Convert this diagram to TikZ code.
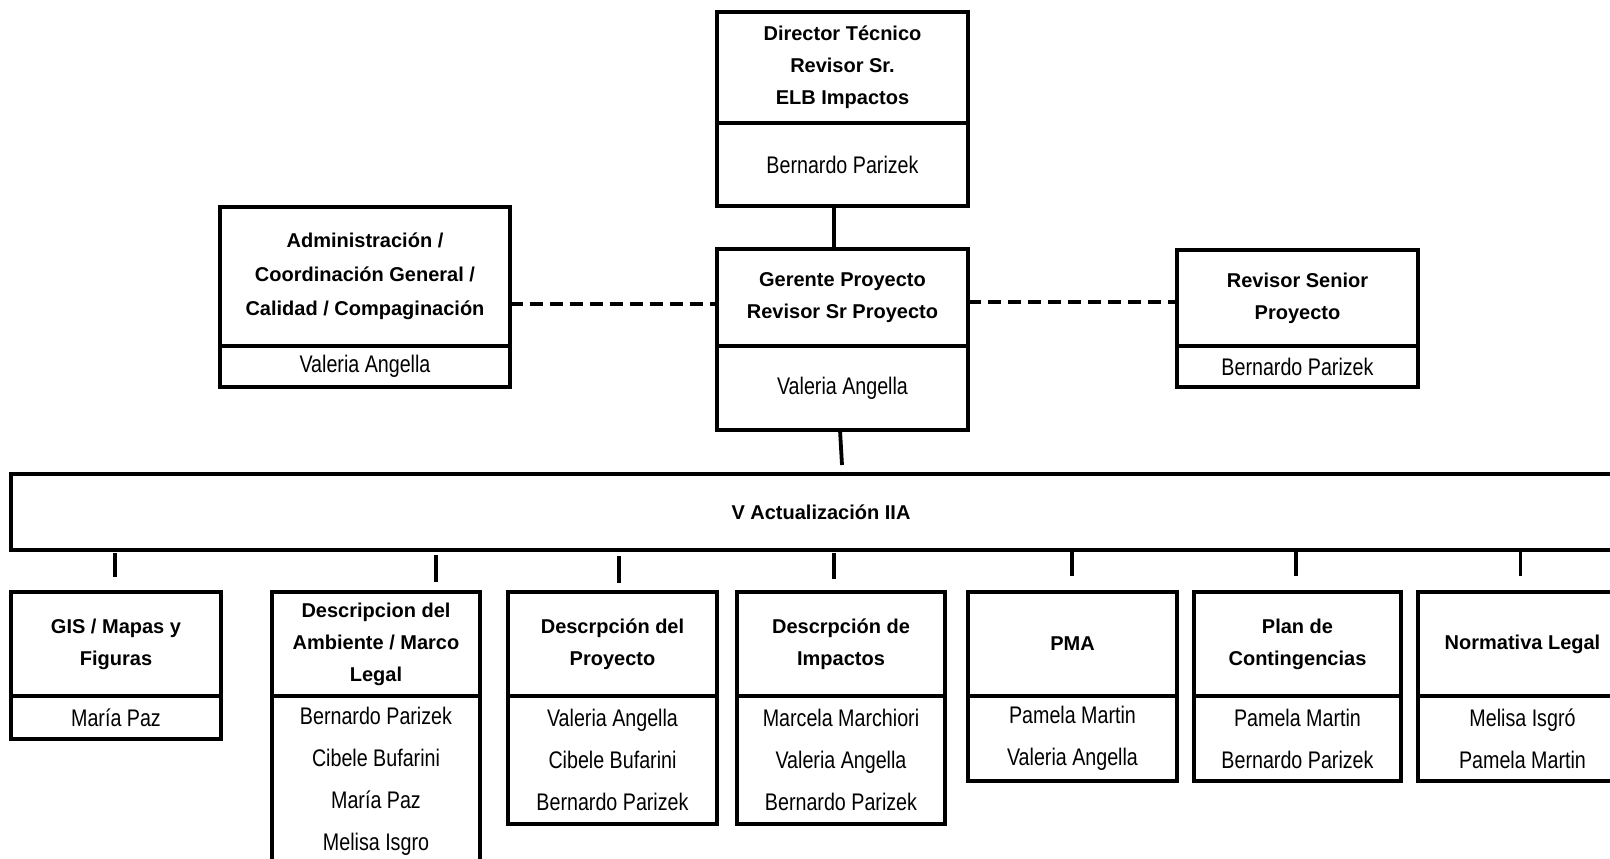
\documentclass[tikz,border=0pt]{standalone}
\usepackage{fontspec}
\setmainfont{Liberation Sans}
\newfontfamily\narrowfont[FakeStretch=0.82]{Liberation Sans}
\usetikzlibrary{calc}
\tikzset{
  box/.style={draw, line width=4pt, rectangle, inner sep=0pt, outer sep=0pt, align=center},
  ttl/.style={box, font=\fontsize{20}{32}\selectfont\bfseries},
  nm/.style={box, font={\narrowfont\fontsize{24}{42}\selectfont}},
  conn/.style={line width=3.8pt},
  dashline/.style={line width=3.3pt, dash pattern=on 13pt off 7pt}
}
\begin{document}
\begin{tikzpicture}[x=1pt,y=-1pt]
\path[use as bounding box] (0,0) rectangle (1610,859);
\clip (0,0) rectangle (1610,859);
% top
\node[ttl, minimum width=251pt, minimum height=111pt] (dirT) at (842.5,67.5) {Director Técnico\\Revisor Sr.\\ELB Impactos};
\node[nm, minimum width=251pt, minimum height=83pt] (dirN) at (842.5,164.5) {Bernardo Parizek};
\node[ttl, minimum width=251pt, minimum height=97pt] (gerT) at (842.5,297.5) {Gerente Proyecto\\Revisor Sr Proyecto};
\node[nm, minimum width=251pt, minimum height=84pt] (gerN) at (842.5,388) {Valeria Angella};
\node[ttl, minimum width=290pt, minimum height=139pt, font=\fontsize{20}{34}\selectfont\bfseries] (admT) at (365,276.5) {Administración /\\Coordinación General /\\Calidad / Compaginación};
\node[nm, minimum width=290pt, minimum height=41pt] (admN) at (365,366.5) {Valeria Angella};
\node[ttl, minimum width=241pt, minimum height=96pt] (revT) at (1297.5,298) {Revisor Senior\\Proyecto};
\node[nm, minimum width=241pt, minimum height=41pt] (revN) at (1297.5,366.5) {Bernardo Parizek};
% main bar
\node[ttl, minimum width=1620pt, minimum height=76pt] (big) at (821,512) {V Actualización IIA};
% bottom row
\node[ttl, minimum width=210pt, minimum height=104pt] (gisT) at (116,644) {GIS / Mapas y\\Figuras};
\node[nm, minimum width=210pt, minimum height=43pt] (gisN) at (116,717.5) {María Paz};
\node[ttl, minimum width=208pt, minimum height=104pt] (ambT) at (376,644) {Descripcion del\\Ambiente / Marco\\Legal};
\node[nm, minimum width=208pt, minimum height=170pt] (ambN) at (376,781) {Bernardo Parizek\\Cibele Bufarini\\María Paz\\Melisa Isgro};
\node[ttl, minimum width=209pt, minimum height=104pt] (proT) at (612.5,644) {Descrpción del\\Proyecto};
\node[nm, minimum width=209pt, minimum height=128pt] (proN) at (612.5,760) {Valeria Angella\\Cibele Bufarini\\Bernardo Parizek};
\node[ttl, minimum width=208pt, minimum height=104pt] (impT) at (841,644) {Descrpción de\\Impactos};
\node[nm, minimum width=208pt, minimum height=128pt] (impN) at (841,760) {Marcela Marchiori\\Valeria Angella\\Bernardo Parizek};
\node[ttl, minimum width=209pt, minimum height=104pt] (pmaT) at (1072.5,644) {PMA};
\node[nm, minimum width=209pt, minimum height=85pt] (pmaN) at (1072.5,738.5) {Pamela Martin\\Valeria Angella};
\node[ttl, minimum width=207pt, minimum height=104pt] (plaT) at (1297.5,644) {Plan de\\Contingencias};
\node[nm, minimum width=207pt, minimum height=85pt] (plaN) at (1297.5,738.5) {Pamela Martin\\Bernardo Parizek};
\node[ttl, minimum width=209pt, minimum height=104pt] (norT) at (1522.5,644) {Normativa Legal};
\node[nm, minimum width=209pt, minimum height=85pt] (norN) at (1522.5,738.5) {Melisa Isgró\\Pamela Martin};
% connectors
\draw[conn] ($(dirN.south)+(-8.5,0)$) -- ($(gerT.north)+(-8.5,0)$);
\draw[conn] ($(gerN.south)+(-2.5,0)$) -- ($(big.north)+(21,-9)$);
\draw[dashline] (admT.east |- 0,304) -- (gerT.west |- 0,304);
\draw[dashline] (gerT.east |- 0,302) -- (revT.west |- 0,302);
\draw[conn] ($(gisT.north)+(-1,-39)$) -- ($(gisT.north)+(-1,-15)$);
\draw[conn] ($(ambT.north)+(60,-37)$) -- ($(ambT.north)+(60,-10)$);
\draw[conn] ($(proT.north)+(6.5,-36)$) -- ($(proT.north)+(6.5,-9)$);
\draw[conn] ($(impT.north)+(-7,-39)$) -- ($(impT.north)+(-7,-13)$);
\draw[conn] ($(pmaT.north)+(-0.5,-40)$) -- ($(pmaT.north)+(-0.5,-16)$);
\draw[conn] ($(plaT.north)+(-1.5,-40)$) -- ($(plaT.north)+(-1.5,-16)$);
\draw[conn] ($(norT.north)+(-2,-40)$) -- ($(norT.north)+(-2,-16)$);
\end{tikzpicture}
\end{document}
